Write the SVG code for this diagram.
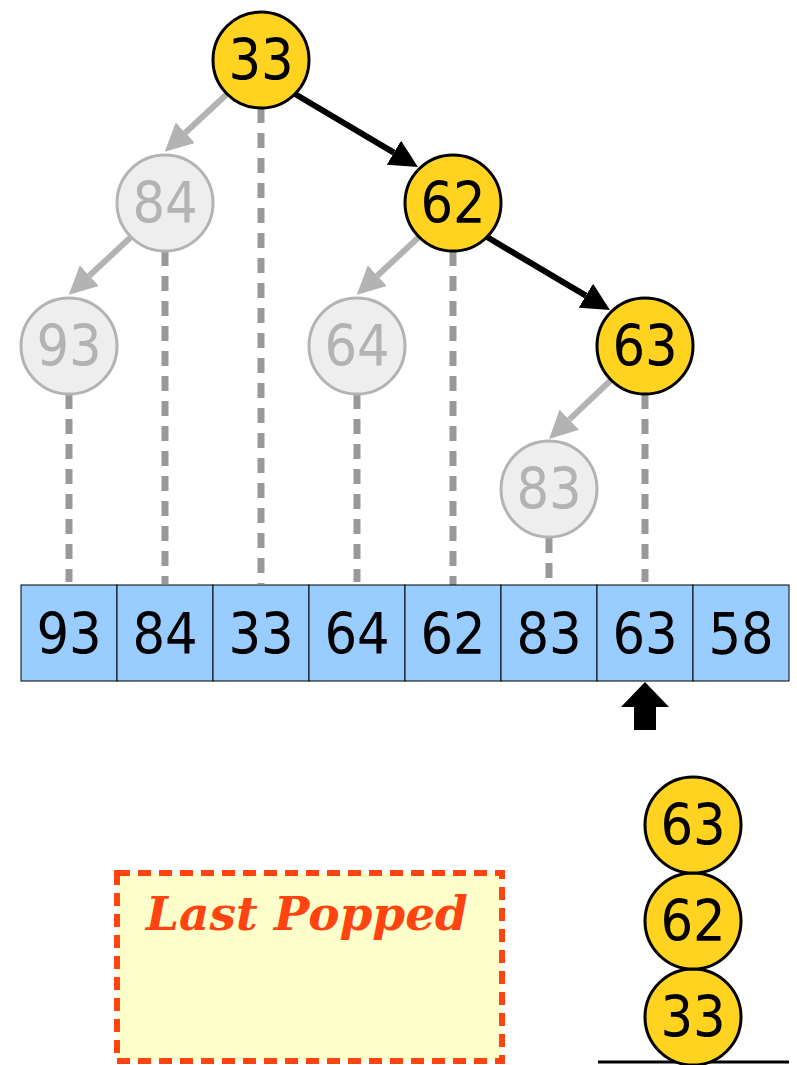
<svg xmlns="http://www.w3.org/2000/svg" width="797" height="1065" viewBox="0 0 797 1065">
<style>
.num{font-family:"DejaVu Sans Condensed","DejaVu Sans",sans-serif;font-size:57px;text-anchor:middle}
.hot circle{fill:#ffd320;stroke:#000;stroke-width:3}
.hot text{fill:#000}
.cold circle{fill:#eeeeee;stroke:#b3b3b3;stroke-width:3}
.cold text{fill:#b3b3b3}
.cell rect{fill:#99ccff;stroke:#000;stroke-width:1}
.cell text{fill:#000}
.dash{stroke:#999;stroke-width:7;stroke-dasharray:15 10;fill:none}
.ge{stroke:#b3b3b3;stroke-width:6;fill:none;marker-end:url(#ga)}
.be{stroke:#000;stroke-width:6;fill:none;marker-end:url(#ba)}
</style>
<defs>
<marker id="ga" markerUnits="userSpaceOnUse" viewBox="0 -14 28 28" refX="0" refY="0" markerWidth="28" markerHeight="28" orient="auto"><path d="M0,-14 L28,0 L0,14 z" fill="#b3b3b3"/></marker>
<marker id="ba" markerUnits="userSpaceOnUse" viewBox="0 -14 28 28" refX="0" refY="0" markerWidth="28" markerHeight="28" orient="auto"><path d="M0,-14 L28,0 L0,14 z" fill="#000"/></marker>
</defs>
<rect width="797" height="1065" fill="#fff"/>
<g id="connectors">
<line class="dash" x1="261" y1="108" x2="261" y2="584"/>
<line class="dash" x1="165" y1="251" x2="165" y2="584"/>
<line class="dash" x1="453" y1="251" x2="453" y2="586"/>
<line class="dash" x1="69" y1="394" x2="69" y2="582"/>
<line class="dash" x1="357" y1="394" x2="357" y2="582"/>
<line class="dash" x1="645" y1="394" x2="645" y2="582"/>
<line class="dash" x1="549" y1="538" x2="549" y2="578"/>
<line class="ge" x1="227" y1="94" x2="185.3" y2="132.7"/>
<line class="ge" x1="131" y1="237" x2="89.3" y2="275.7"/>
<line class="ge" x1="419" y1="237" x2="377.3" y2="275.7"/>
<line class="ge" x1="611" y1="380" x2="569.3" y2="419.7"/>
<line class="be" x1="295" y1="94" x2="393.9" y2="152.7"/>
<line class="be" x1="487" y1="237" x2="585.9" y2="295.7"/>
</g>
<g id="node-33" class="hot"><circle cx="261" cy="60" r="48"/><text class="num" x="261" y="80">33</text></g>
<g id="node-84" class="cold"><circle cx="165" cy="203" r="48"/><text class="num" x="165" y="223">84</text></g>
<g id="node-62" class="hot"><circle cx="453" cy="203" r="48"/><text class="num" x="453" y="223">62</text></g>
<g id="node-93" class="cold"><circle cx="69" cy="346" r="48"/><text class="num" x="69" y="366">93</text></g>
<g id="node-64" class="cold"><circle cx="357" cy="346" r="48"/><text class="num" x="357" y="366">64</text></g>
<g id="node-63" class="hot"><circle cx="645" cy="346" r="48"/><text class="num" x="645" y="366">63</text></g>
<g id="node-83" class="cold"><circle cx="549" cy="489" r="48"/><text class="num" x="549" y="509">83</text></g>
<g id="array">
<g class="cell"><rect x="21" y="585" width="96" height="96"/><text class="num" x="69" y="654">93</text></g>
<g class="cell"><rect x="117" y="585" width="96" height="96"/><text class="num" x="165" y="654">84</text></g>
<g class="cell"><rect x="213" y="585" width="96" height="96"/><text class="num" x="261" y="654">33</text></g>
<g class="cell"><rect x="309" y="585" width="96" height="96"/><text class="num" x="357" y="654">64</text></g>
<g class="cell"><rect x="405" y="585" width="96" height="96"/><text class="num" x="453" y="654">62</text></g>
<g class="cell"><rect x="501" y="585" width="96" height="96"/><text class="num" x="549" y="654">83</text></g>
<g class="cell"><rect x="597" y="585" width="96" height="96"/><text class="num" x="645" y="654">63</text></g>
<g class="cell"><rect x="693" y="585" width="96" height="96"/><text class="num" x="741" y="654">58</text></g>
</g>
<g id="pointer"><path d="M645,682 L669,707 L656,707 L656,730 L634,730 L634,707 L621,707 z" fill="#000"/></g>
<g id="last-popped">
<rect x="117" y="873" width="385" height="188" fill="#ffffcc" stroke="#ff4411" stroke-width="6" stroke-dasharray="13 8"/>
<text x="307" y="930" text-anchor="middle" fill="#ff4411" font-family="'DejaVu Serif',serif" font-weight="bold" font-style="italic" font-size="47">Last Popped</text>
</g>
<g id="stack">
<line x1="598" y1="1062" x2="789" y2="1062" stroke="#000" stroke-width="3"/>
<g id="stack-33" class="hot"><circle cx="693" cy="1017" r="48"/><text class="num" x="693" y="1037">33</text></g>
<g id="stack-62" class="hot"><circle cx="693" cy="921" r="48"/><text class="num" x="693" y="941">62</text></g>
<g id="stack-63" class="hot"><circle cx="693" cy="825" r="48"/><text class="num" x="693" y="845">63</text></g>
</g>
</svg>
